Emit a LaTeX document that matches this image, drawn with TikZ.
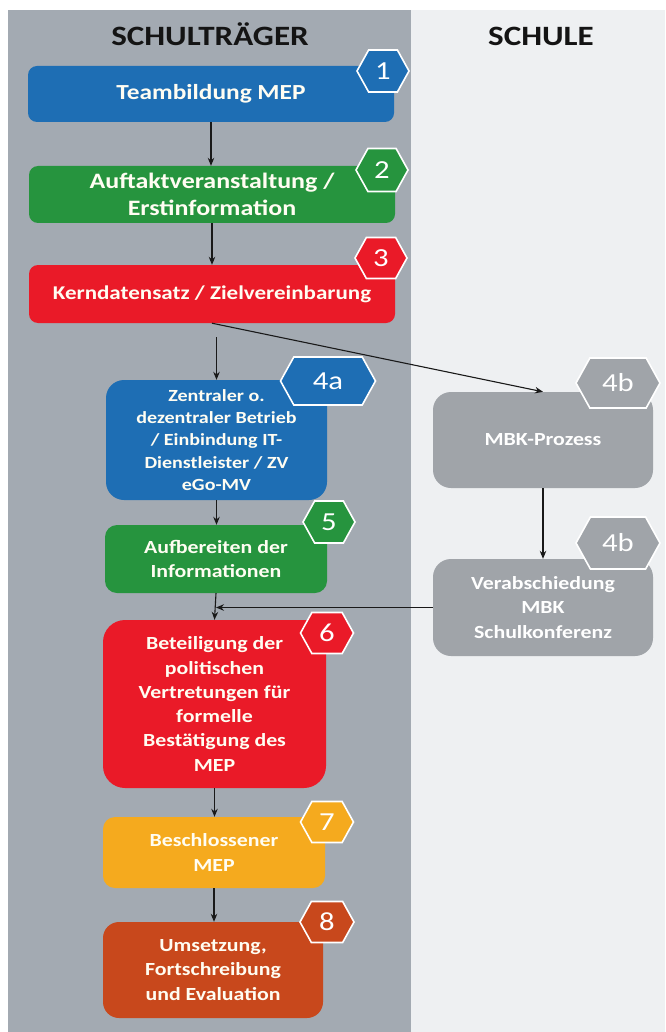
\documentclass[tikz,border=0pt]{standalone}
\usepackage{fontspec}
\setmainfont{Carlito}[FakeStretch=1.18]
\usetikzlibrary{shapes.symbols,arrows.meta}
\definecolor{panelgray}{RGB}{163,170,178}
\definecolor{panellight}{RGB}{238,240,242}
\definecolor{cblue}{RGB}{30,110,180}
\definecolor{cgreen}{RGB}{38,148,62}
\definecolor{cred}{RGB}{234,26,40}
\definecolor{corange}{RGB}{245,170,30}
\definecolor{cbrown}{RGB}{200,72,28}
\definecolor{cgray}{RGB}{160,164,169}
\definecolor{txt}{RGB}{255,253,242}
\definecolor{headtxt}{RGB}{20,20,20}
\tikzset{
  box/.style={rounded corners=#1, inner sep=2pt, align=center, text=txt},
  hex/.style={signal, signal to=east and west, signal pointer angle=122, draw=white, line width=1.6pt, inner sep=0pt, text=white, font=\fontsize{26}{26}\selectfont},
  arr/.style={-{Stealth[length=8pt,width=6.5pt]}, line width=1.1pt, draw=black!90},
  head/.style={text=headtxt, font=\bfseries\fontsize{28}{30}\selectfont},
  big/.style={font=\bfseries\fontsize{21.5}{26.5}\selectfont},
  mid/.style={font=\bfseries\fontsize{18.5}{24.3}\selectfont},
  small/.style={font=\bfseries\fontsize{17}{22.3}\selectfont},
}
\begin{document}
\begin{tikzpicture}[x=1pt,y=-1pt]
\useasboundingbox (0,0) rectangle (665,1032);
\fill[white] (0,0) rectangle (665,1032);
\fill[panelgray] (8,10) rectangle (411,1032);
\fill[panellight] (411,10) rectangle (665,1032);

\node[head] (hl) at (210,34) {SCHULTRÄGER};
\node[head] (hr) at (541,36) {SCHULE};

% boxes
\node[box=9pt, big, fill=cblue, minimum width=366pt, minimum height=56pt] (b1) at (211,94) {Teambildung MEP};
\node[box=9pt, font=\bfseries\fontsize{22}{26.7}\selectfont, fill=cgreen, minimum width=366pt, minimum height=57pt] (b2) at (212,194.5) {Auftaktveranstaltung /\\Erstinformation};
\node[box=9pt, font=\bfseries\fontsize{19.5}{24}\selectfont, fill=cred, minimum width=366pt, minimum height=58pt] (b3) at (212,294) {Kerndatensatz / Zielvereinbarung};
\node[box=18pt, small, fill=cblue, minimum width=221pt, minimum height=120pt] (b4a) at (216.5,440) {Zentraler o.\\dezentraler Betrieb\\/ Einbindung IT-\\Dienstleister / ZV\\eGo-MV};
\node[box=18pt, mid, fill=cgray, text=white, minimum width=220pt, minimum height=96pt] (b4b) at (543,440) {MBK-Prozess};
\node[box=12pt, mid, fill=cgreen, minimum width=222pt, minimum height=68pt] (b5) at (216,559) {Aufbereiten der\\Informationen};
\node[box=18pt, mid, fill=cgray, text=white, minimum width=220pt, minimum height=97pt] (b4c) at (543,607.5) {Verabschiedung\\MBK\\Schulkonferenz};
\node[box=22pt, mid, fill=cred, minimum width=223pt, minimum height=168pt] (b6) at (214.5,704) {Beteiligung der\\politischen\\Vertretungen für\\formelle\\Bestätigung des\\MEP};
\node[box=12pt, mid, fill=corange, minimum width=222pt, minimum height=71pt] (b7) at (214,852.5) {Beschlossener\\MEP};
\node[box=16pt, mid, fill=cbrown, minimum width=220pt, minimum height=96pt] (b8) at (213,970) {Umsetzung,\\Fortschreibung\\und Evaluation};

% hexagon badges
\node[hex, fill=cblue, minimum width=52pt, minimum height=42pt] (n1) at (383,71) {1};
\node[hex, fill=cgreen, minimum width=52pt, minimum height=43pt] (n2) at (382,170) {2};
\node[hex, fill=cred, minimum width=52pt, minimum height=41pt] (n3) at (381,258) {3};
\node[hex, fill=cblue, minimum width=95pt, minimum height=48pt] (n4a) at (328,381) {4a};
\node[hex, fill=cgray, minimum width=84pt, minimum height=50pt] (n4b) at (618,383) {4b};
\node[hex, fill=cgreen, minimum width=52pt, minimum height=42pt] (n5) at (329,522) {5};
\node[hex, fill=cgray, minimum width=84pt, minimum height=52pt] (n4c) at (618,543) {4b};
\node[hex, fill=cred, minimum width=53pt, minimum height=41pt] (n6) at (327,633) {6};
\node[hex, fill=corange, minimum width=53pt, minimum height=41pt] (n7) at (327,822) {7};
\node[hex, fill=cbrown, minimum width=54pt, minimum height=41pt] (n8) at (327,922) {8};

% connectors
\draw[arr] (b1.south) -- (b1.south |- b2.north);
\draw[arr] (b2.south) -- (b2.south |- b3.north);
\draw[arr, shorten <=14pt] (b3.south -| b4a.north) -- (b4a.north);
\draw[arr] (b3.south) -- (b4b.north);
\draw[arr] (b4a.south) -- (b4a.south |- b5.north);
\draw[arr] (b4b.south) -- (b4c.north);
\draw[arr] (b5.south) -- (b6.north);
\draw[arr] (b4c.west) -- (b4c.west -| b5.south);
\draw[arr] (b6.south) -- (b6.south |- b7.north);
\draw[arr] (b7.south) -- (b7.south |- b8.north);
\end{tikzpicture}
\end{document}
